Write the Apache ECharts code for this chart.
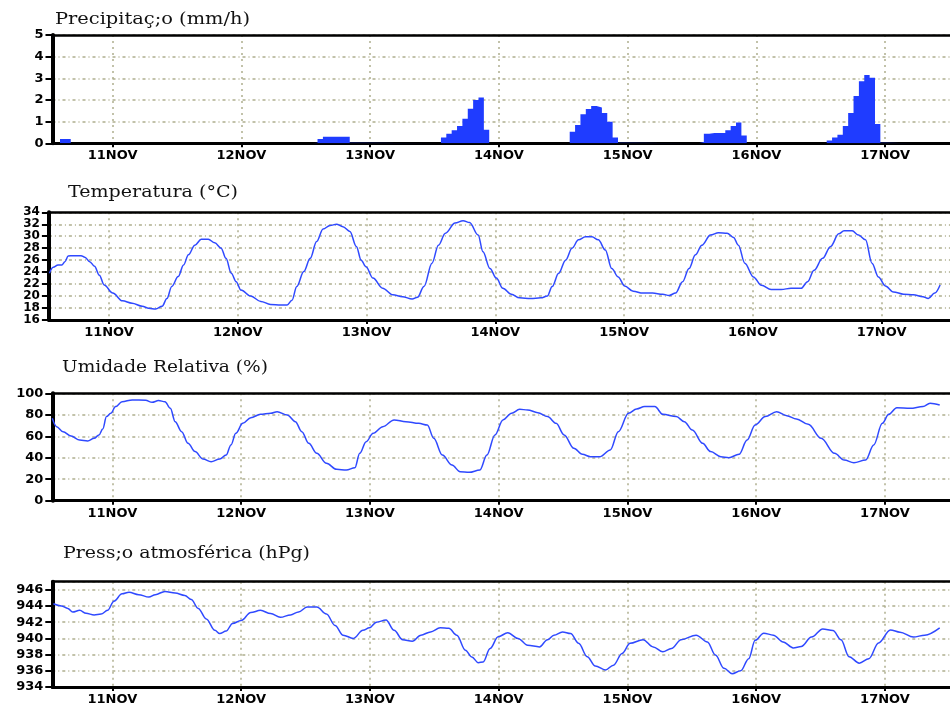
<!DOCTYPE html>
<html><head><meta charset="utf-8">
<script src="https://cdn.jsdelivr.net/npm/echarts@6/dist/echarts.min.js"></script>
<style>html,body{margin:0;padding:0;background:#fff}#c{width:950px;height:706px}</style>
</head><body><div id="c"></div>
<script>
// ---- data ----
const dayLabels = ['11NOV','12NOV','13NOV','14NOV','15NOV','16NOV','17NOV'];
const dayHours = [0, 24, 48, 72, 96, 120, 144]; // hours since 11NOV 00h
const titles = ['Precipitaç;o (mm/h)', 'Temperatura (°C)', 'Umidade Relativa (%)', 'Press;o atmosférica (hPg)'];

// precipitation: hourly bars grouped in rain events (start hour, hourly values mm/h)
const precipEventStart = [-9.8, 37.2, 61.2, 85.2, 109.2, 133.1, 149.3];
const precipEventValues = [
  [0.2, 0.2],
  [0.03, 0.2, 0.3, 0.3, 0.3, 0.3, 0.3, 0.03],
  [0.27, 0.44, 0.6, 0.8, 1.13, 1.6, 2.0, 2.12, 0.62],
  [0.53, 0.85, 1.34, 1.58, 1.72, 1.65, 1.4, 1.0, 0.27, 0.03],
  [0.06, 0.44, 0.48, 0.48, 0.48, 0.6, 0.8, 0.96, 0.36],
  [0.13, 0.27, 0.4, 0.8, 1.4, 2.18, 2.87, 3.15, 3.03, 0.89, 0.03],
  [0.08]
];

const tempHours = [-11.1,-10.4,-9.5,-8.8,-8.2,-7.6,-6.7,-5.2,-4.5,-3.6,-2.7,-1.8,-0.9,0.7,2.5,4.3,6.2,7.4,8.7,9.9,10.8,11.7,12.9,13.9,14.8,16.0,17.2,18.5,19.7,20.9,21.8,22.8,23.7,24.6,26.4,28.3,30.1,32.0,33.2,34.1,35.0,36.3,37.5,38.7,39.9,41.2,42.4,43.6,44.9,46.1,47.0,47.9,49.2,51.0,52.9,54.7,56.5,57.5,58.7,60.2,61.4,62.7,64.5,66.0,67.2,68.8,69.7,71.0,72.2,73.4,75.0,76.5,78.6,80.5,81.7,82.6,83.8,85.1,86.3,87.5,88.8,90.0,91.2,92.5,93.7,94.9,96.1,97.7,99.5,101.3,103.2,104.4,105.6,106.9,108.1,109.3,110.5,112.1,113.6,115.2,116.4,117.3,118.5,120.1,121.6,123.4,125.3,127.1,129.0,130.2,131.4,133.0,134.5,136.0,137.0,138.5,139.7,141.0,142.2,143.4,144.7,146.2,148.1,149.9,151.7,152.7,153.9,154.9];
const tempValues = [23.8,24.8,25.2,25.2,25.75,26.7,26.75,26.75,26.5,25.75,25.0,23.5,21.85,20.5,19.2,18.8,18.3,17.95,17.85,18.3,19.6,21.6,23.25,25.2,26.9,28.5,29.5,29.5,28.9,28.0,26.3,23.8,22.4,21.0,20.0,19.1,18.6,18.5,18.5,19.3,21.6,24.1,26.3,29.1,31.2,31.8,32.0,31.6,30.8,28.3,26.0,24.9,23.0,21.3,20.2,19.9,19.5,19.8,21.6,25.5,28.5,30.5,32.2,32.6,32.3,30.2,27.4,24.6,23.0,21.3,20.3,19.7,19.6,19.7,20.0,21.6,23.8,26.0,28.0,29.4,29.9,29.9,29.4,27.7,24.6,23.2,21.7,20.8,20.5,20.5,20.3,20.1,20.5,22.4,24.6,26.9,28.5,30.2,30.6,30.5,29.8,28.5,25.5,23.2,21.8,21.1,21.1,21.3,21.3,22.4,24.3,26.3,28.3,30.4,30.9,30.9,30.2,29.4,25.5,23.2,21.7,20.7,20.3,20.2,19.9,19.6,20.5,21.85];

const humHours = [-11.2,-10.4,-9.2,-7.7,-6.1,-4.6,-3.4,-2.5,-1.8,-1.1,-0.3,0.6,1.8,3.7,6.2,7.4,8.6,9.8,10.8,11.7,12.9,14.1,15.4,16.9,18.4,20.0,21.2,22.1,23.0,24.3,25.8,27.6,29.5,30.7,32.6,34.1,35.3,36.6,38.1,39.9,41.8,43.6,45.2,46.1,47.3,48.6,50.4,52.5,54.7,57.1,58.7,59.9,61.5,63.3,64.8,66.5,68.5,69.8,71.3,72.8,74.4,75.9,77.4,79.3,81.1,82.7,84.2,86.0,87.6,89.1,90.9,92.8,94.3,96.2,97.7,99.2,101.1,102.6,105.1,106.6,108.1,110.0,111.5,113.4,114.9,116.8,118.3,119.8,121.7,123.8,125.7,127.5,129.7,132.1,134.6,136.4,138.2,140.4,141.9,143.5,144.7,146.2,148.7,151.1,152.4,154.2];
const humValues = [76.7,68.9,64.3,60.2,56.5,55.6,58.1,61.2,66.8,78.3,81.4,87.6,92.2,93.8,93.5,91.6,93.2,92.2,86.0,73.6,64.3,53.4,45.7,38.8,36.3,38.8,42.5,51.9,62.7,72.0,77.3,80.4,81.4,82.9,79.8,73.6,64.3,53.4,44.1,34.8,29.2,28.6,30.7,44.1,55.0,62.7,68.9,75.2,73.6,72.0,70.5,58.1,42.5,33.2,27.0,26.4,28.6,42.5,61.2,75.2,81.4,85.1,84.5,82.0,78.3,72.0,61.2,48.8,43.2,41.0,41.0,47.2,64.3,81.4,85.4,87.6,87.6,80.4,78.3,73.6,65.8,53.4,45.7,41.0,40.1,43.2,56.5,70.5,78.3,82.9,79.2,76.1,71.1,58.1,44.1,37.9,35.4,37.9,51.9,72.0,80.4,86.6,86.0,87.6,90.7,89.1];

const presHours = [-11.0,-9.5,-8.3,-7.4,-6.1,-4.9,-3.4,-2.1,-0.9,0.3,1.8,3.1,4.9,6.8,8.0,9.8,11.7,13.5,14.7,16.0,17.5,19.1,20.0,21.2,22.4,24.0,25.8,27.6,29.5,31.3,33.2,34.7,36.3,38.1,39.9,41.5,43.0,44.9,46.7,47.9,49.2,51.0,52.5,54.1,55.9,57.5,59.3,61.1,62.7,64.2,65.8,67.0,68.2,69.1,70.4,71.9,73.7,75.6,77.4,79.6,81.1,82.3,83.9,85.4,86.9,88.5,90.0,91.9,93.4,95.0,96.5,98.9,100.8,102.6,104.2,106.0,108.8,110.9,112.4,114.0,115.5,117.1,118.6,119.8,121.4,123.2,125.0,126.9,128.4,130.3,132.4,134.3,135.8,137.3,139.2,141.0,142.8,145.0,146.8,149.3,151.4,154.2];
const presValues = [944.27,944.0,943.7,943.26,943.46,943.1,942.9,943.0,943.46,944.6,945.5,945.7,945.4,945.1,945.4,945.8,945.6,945.3,944.8,943.7,942.4,941.0,940.6,940.9,941.85,942.2,943.2,943.46,943.06,942.6,942.9,943.26,943.87,943.87,943.0,941.6,940.4,940.0,941.0,941.3,942.0,942.26,941.0,939.84,939.64,940.4,940.8,941.3,941.25,940.4,938.55,937.7,937.0,937.1,938.75,940.2,940.7,940.0,939.15,938.95,939.84,940.4,940.8,940.6,939.4,937.75,936.6,936.1,936.7,938.15,939.4,939.84,938.95,938.35,938.75,939.84,940.4,939.56,937.95,936.3,935.65,936.0,937.5,939.76,940.65,940.4,939.56,938.83,939.0,940.16,941.17,940.97,939.84,937.75,936.94,937.5,939.44,941.05,940.77,940.16,940.4,941.3];

// ---- layout ----
const W = 950, H = 706;
const PX_PER_HOUR = 5.425;
const X_MIN = -11.2;
const panels = [
  {left: 52.5, top: 35,    height: 108.3, yMin: 0,   yMax: 5,   yInt: 1,  titleX: 55, titleY: 20,    titleW: 195, yFont: 13},
  {left: 48.9, top: 212.3, height: 107.7, yMin: 16,  yMax: 34,  yInt: 2,  titleX: 68, titleY: 193,   titleW: 170, yFont: 12},
  {left: 52.3, top: 393.3, height: 107.4, yMin: 0,   yMax: 100, yInt: 20, titleX: 62, titleY: 367.5, titleW: 206, yFont: 13},
  {left: 52.3, top: 581.7, height: 107.6, yMin: 934, yMax: 947, yInt: 2,  titleX: 63, titleY: 553.5, titleW: 247, yFont: 13}
];
const RIGHT_OVERFLOW = 10;

const lineColor = '#2f49ff';
const barColor = '#1f3cff';
const gridColor = '#aeae8e';
const labelFont = {fontFamily: 'DejaVu Sans', fontWeight: 'bold', fontSize: 13, color: '#000'};

// precipitation step data
const precipData = [[X_MIN - 1, 0]];
precipEventStart.forEach((s, k) => {
  const vals = precipEventValues[k];
  vals.forEach((v, i) => precipData.push([s + i, v]));
  precipData.push([s + vals.length, 0]);
});

const grids = [], xAxes = [], yAxes = [], series = [], graphics = [];
const measure = document.createElement('canvas').getContext('2d');
const titleFont = '16px "DejaVu Serif"';
measure.font = titleFont;

panels.forEach((p, i) => {
  const width = W + RIGHT_OVERFLOW - p.left;
  const xMax = X_MIN + width / PX_PER_HOUR;
  grids.push({left: p.left, top: p.top, height: p.height, right: -RIGHT_OVERFLOW, show: false, containLabel: false});
  xAxes.push({
    type: 'value', gridIndex: i, min: X_MIN, max: xMax, position: 'bottom',
    axisLine: {show: true, onZero: false, lineStyle: {color: '#000', width: 3}},
    axisTick: {show: true, customValues: dayHours, length: 4, lineStyle: {color: '#000', width: 2}},
    axisLabel: Object.assign({show: true, customValues: dayHours, margin: 6,
      formatter: v => dayLabels[dayHours.indexOf(v)] || ''}, labelFont),
    splitLine: {show: true, lineStyle: {color: gridColor, width: 1.5, type: [2, 4]}}
  });
  xAxes.push({
    type: 'value', gridIndex: i, min: X_MIN, max: xMax, position: 'top',
    axisLine: {show: true, onZero: false, lineStyle: {color: '#000', width: 2.5}},
    axisTick: {show: false}, axisLabel: {show: false}, splitLine: {show: false}
  });
  yAxes.push({
    type: 'value', gridIndex: i, min: p.yMin, max: p.yMax, interval: p.yInt,
    axisLine: {show: true, onZero: false, lineStyle: {color: '#000', width: 4}},
    axisTick: {show: true, length: 7, lineStyle: {color: '#000', width: 2}},
    axisLabel: Object.assign({}, labelFont, {show: true, margin: 9, showMaxLabel: i !== 3,
      interval: 0, hideOverlap: false, fontSize: p.yFont}),
    splitLine: {show: true, lineStyle: {color: gridColor, width: 1.5, type: [3, 3, 1, 3]}}
  });
  const txt = titles[i];
  const sx = p.titleW / measure.measureText(txt).width;
  graphics.push({
    type: 'text', x: p.titleX, y: p.titleY, scaleX: sx, silent: true,
    style: {text: txt, font: titleFont, fill: '#111', verticalAlign: 'middle', align: 'left'}
  });
});

series.push({
  type: 'line', xAxisIndex: 0, yAxisIndex: 0, step: 'end', showSymbol: false,
  data: precipData, lineStyle: {width: 0, color: barColor},
  areaStyle: {color: barColor, opacity: 1}, itemStyle: {color: barColor}, animation: false
});
const mk = (hours, vals) => hours.map((h, i) => [h, vals[i]]);
[[tempHours, tempValues], [humHours, humValues], [presHours, presValues]].forEach((s, k) => {
  series.push({
    type: 'line', xAxisIndex: (k + 1) * 2, yAxisIndex: k + 1, showSymbol: false,
    smooth: 0.35, smoothMonotone: 'x',
    data: mk(s[0], s[1]), lineStyle: {width: 1.5, color: lineColor}, itemStyle: {color: lineColor},
    animation: false
  });
});

const chart = echarts.init(document.getElementById('c'), null, {renderer: 'canvas', width: W, height: H});
chart.setOption({
  backgroundColor: '#fff',
  animation: false,
  grid: grids, xAxis: xAxes, yAxis: yAxes, series: series, graphic: graphics
});
</script></body></html>
